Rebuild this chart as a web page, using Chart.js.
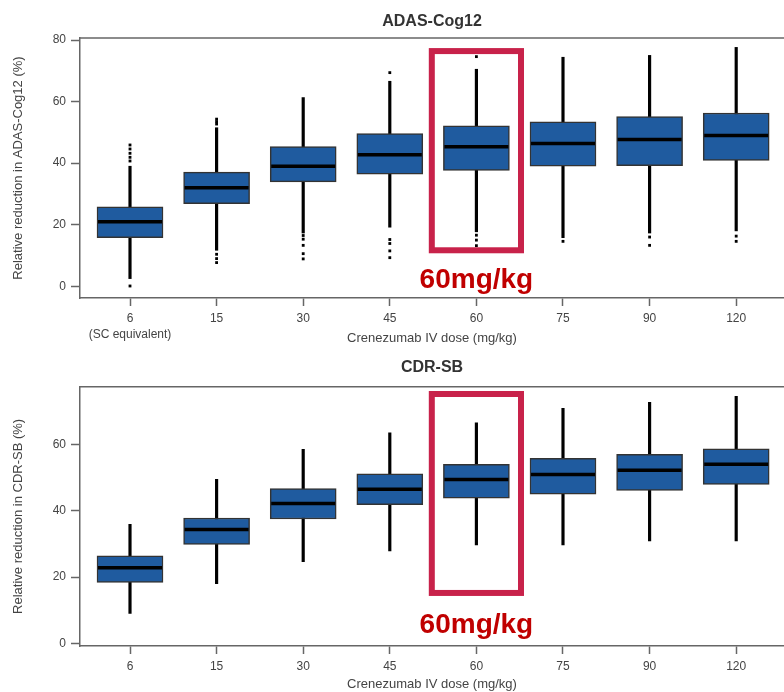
<!DOCTYPE html>
<html>
<head>
<meta charset="utf-8">
<script src="https://cdn.jsdelivr.net/npm/chart.js@4.4.1/dist/chart.umd.min.js"></script>
<style>
  body { margin: 0; background: #fff; }
  .panel { position: absolute; left: 0; width: 784px; height: 346px; }
</style>
</head>
<body>
<div class="panel" style="top:0"><canvas id="adasChart" width="784" height="346"></canvas></div>
<div class="panel" style="top:346px"><canvas id="cdrChart" width="784" height="346"></canvas></div>
<script>
// Dosis (categorías del eje x)
const doses = ['6', '15', '30', '45', '60', '75', '90', '120'];
const adasTickLabels = [['6', '(SC equivalent)'], '15', '30', '45', '60', '75', '90', '120'];
const cdrTickLabels = doses;

// ADAS-Cog12: cuartiles, bigotes y atípicos
const adasQ1     = [15.8, 26.8, 33.9, 36.4, 37.6, 39.0, 39.2, 40.9];
const adasMedian = [21.0, 32.0, 39.0, 42.7, 45.3, 46.4, 47.7, 49.0];
const adasQ3     = [25.8, 37.1, 45.4, 49.6, 52.1, 53.4, 55.1, 56.3];
const adasLow    = [2.5, 11.7, 17.3, 19.2, 17.7, 15.8, 17.3, 18.0];
const adasHigh   = [39.0, 51.5, 61.3, 66.6, 70.5, 74.4, 75.0, 77.6];
const adasOutliers = [
  [45.9, 44.6, 43.2, 41.9, 40.7, 0.1],
  [54.3, 53.5, 52.7, 10.4, 9.0, 7.7],
  [16.5, 15.3, 13.3, 10.6, 8.9],
  [69.4, 15.2, 13.9, 11.5, 9.3],
  [74.6, 16.6, 15.0, 13.2],
  [14.6],
  [16.0, 13.3],
  [16.3, 14.6]
];
const adasYTicks = [0, 20, 40, 60, 80];

// CDR-SB
const cdrQ1     = [18.4, 29.8, 37.5, 41.8, 43.8, 45.0, 46.1, 47.9];
const cdrMedian = [22.8, 34.3, 42.2, 46.5, 49.4, 50.9, 52.2, 54.0];
const cdrQ3     = [26.4, 37.8, 46.7, 51.1, 54.0, 55.8, 57.0, 58.7];
const cdrLow    = [9.0, 18.0, 24.6, 27.9, 29.7, 29.7, 30.9, 30.9];
const cdrHigh   = [35.9, 49.5, 58.5, 63.5, 66.5, 70.9, 72.7, 74.5];
const cdrYTicks = [0, 20, 40, 60];

// Colores
const boxFill = '#1f5b9f';
const axisColor = '#666';
const textColor = '#444';
const highlightColor = '#c8224a';
const highlightText = '#c00000';

Chart.defaults.font.family = '"Liberation Sans", Arial, sans-serif';

// Rectángulo rojo alrededor de 60 mg/kg + borde superior del área
const highlightPlugin = {
  id: 'highlight',
  afterDatasetsDraw(chart, args, opts) {
    const { ctx, chartArea, scales: { x, y } } = chart;
    ctx.save();
    ctx.strokeStyle = axisColor;
    ctx.lineWidth = 1.5;
    ctx.beginPath();
    ctx.moveTo(chartArea.left, chartArea.top);
    ctx.lineTo(chartArea.right, chartArea.top);
    ctx.stroke();

    const left = x.getPixelForValue(opts.index - 0.515);
    const right = x.getPixelForValue(opts.index + 0.515);
    const top = y.getPixelForValue(opts.yMax);
    const bottom = y.getPixelForValue(opts.yMin);
    ctx.strokeStyle = highlightColor;
    ctx.lineWidth = 6;
    ctx.strokeRect(left, top, right - left, bottom - top);

    ctx.fillStyle = highlightText;
    ctx.font = 'bold 28px "Liberation Sans", Arial, sans-serif';
    ctx.textAlign = 'center';
    ctx.textBaseline = 'alphabetic';
    ctx.fillText(opts.text, x.getPixelForValue(opts.index), bottom + opts.textGap);
    ctx.restore();
  }
};

function makeBoxChart(canvasId, cfg) {
  const xs = doses.map((_, i) => i + 1);
  const boxes = xs.map((x, i) => ({ x, y: [cfg.q1[i], cfg.q3[i]] }));
  const whiskers = xs.map((x, i) => ({ x, y: [cfg.low[i], cfg.high[i]] }));
  const medians = xs.map((x, i) => ({ x, y: cfg.median[i] }));
  const outliers = [];
  (cfg.outliers || []).forEach((vals, i) => vals.forEach(v => outliers.push({ x: i + 1, y: v })));

  return new Chart(document.getElementById(canvasId), {
    type: 'bar',
    data: {
      datasets: [
        { label: 'whisker', data: whiskers, backgroundColor: '#000', borderWidth: 0,
          barThickness: 2.5, grouped: false, order: 3 },
        { label: 'box', data: boxes, backgroundColor: boxFill, borderColor: '#333',
          borderWidth: 1.5, borderSkipped: false, barThickness: 66, grouped: false, order: 2 },
        { type: 'scatter', label: 'median', data: medians, pointStyle: 'line', pointRadius: 32,
          pointBorderColor: '#000', pointBorderWidth: 3.5, order: 1 },
        { type: 'scatter', label: 'outliers', data: outliers, pointStyle: 'rect', pointRadius: 2,
          pointBackgroundColor: '#000', pointBorderWidth: 0, order: 1 }
      ]
    },
    options: {
      responsive: false,
      animation: false,
      devicePixelRatio: 1,
      layout: { padding: 0, autoPadding: false },
      plugins: {
        legend: { display: false },
        tooltip: { enabled: false },
        title: {
          display: true, text: cfg.title, fullSize: false, color: '#333',
          font: { size: 16, weight: 'bold' },
          padding: { top: 12, bottom: cfg.titleGap }
        },
        highlight: cfg.highlight
      },
      scales: {
        x: {
          type: 'linear', min: 0.4226, max: 8.552, offset: false,
          afterBuildTicks: s => { s.ticks = xs.map(v => ({ value: v })); },
          afterFit: s => { s.height = cfg.xAxisHeight; s.paddingLeft = 0; s.paddingRight = 0; },
          grid: { offset: false, drawOnChartArea: false, tickLength: 8, tickWidth: 1.5, tickColor: axisColor },
          border: { display: true, color: axisColor, width: 1.5 },
          ticks: {
            callback: (v, i) => cfg.tickLabels[i],
            font: { size: 12, lineHeight: 1.33 }, color: textColor,
            padding: 5, maxRotation: 0, autoSkip: false
          },
          title: {
            display: true, text: 'Crenezumab IV dose (mg/kg)', color: textColor,
            font: { size: 13 }, padding: { top: 0, bottom: 0 }
          }
        },
        y: {
          min: cfg.yMin, max: cfg.yMax,
          afterBuildTicks: s => { s.ticks = cfg.yTicks.map(v => ({ value: v })); },
          afterFit: s => { s.width = 80; },
          grid: { drawOnChartArea: false, tickLength: 9, tickWidth: 1.5, tickColor: axisColor },
          border: { display: true, color: axisColor, width: 1.5 },
          ticks: { font: { size: 12 }, color: textColor, padding: 5 },
          title: {
            display: true, text: cfg.yTitle, color: textColor,
            font: { size: 13 }, padding: { top: 11, bottom: 0 }
          }
        }
      }
    },
    plugins: [highlightPlugin]
  });
}

makeBoxChart('adasChart', {
  title: 'ADAS-Cog12', yTitle: 'Relative reduction in ADAS-Cog12 (%)',
  q1: adasQ1, median: adasMedian, q3: adasQ3, low: adasLow, high: adasHigh,
  outliers: adasOutliers, tickLabels: adasTickLabels, yTicks: adasYTicks,
  yMin: -3.8, yMax: 80.65, titleGap: 6.8, xAxisHeight: 48,
  highlight: { index: 5, yMin: 11.7, yMax: 76.4, text: '60mg/kg', textGap: 38 }
});

makeBoxChart('cdrChart', {
  title: 'CDR-SB', yTitle: 'Relative reduction in CDR-SB (%)',
  q1: cdrQ1, median: cdrMedian, q3: cdrQ3, low: cdrLow, high: cdrHigh,
  outliers: [], tickLabels: cdrTickLabels, yTicks: cdrYTicks,
  yMin: -0.8, yMax: 77.4, titleGap: 9.5, xAxisHeight: 46,
  highlight: { index: 5, yMin: 15.2, yMax: 75.2, text: '60mg/kg', textGap: 40 }
});
</script>
</body>
</html>
